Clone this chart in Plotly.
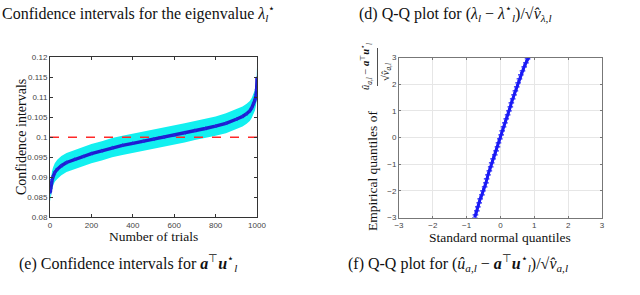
import plotly.graph_objects as go

# ---------------- data ----------------
trials = [1, 3, 6, 10, 15, 23, 35, 55, 80, 120, 160, 200, 250, 300, 350, 400, 450,
          500, 550, 600, 650, 700, 750, 800, 850, 900, 930, 950, 965, 975, 985,
          990, 995, 998, 1000]
estimate = [0.0862, 0.0870, 0.0885, 0.0893, 0.0902, 0.0912, 0.0920, 0.0929, 0.0937,
            0.0945, 0.0952, 0.0959, 0.0966, 0.0974, 0.0980, 0.0985, 0.0990, 0.0995,
            0.1000, 0.1005, 0.1011, 0.1017, 0.1022, 0.1028, 0.1035, 0.1045, 0.1052,
            0.1059, 0.1066, 0.1074, 0.1085, 0.1093, 0.1105, 0.1118, 0.1148]
half_width = [0.0022, 0.0022, 0.0023, 0.0023, 0.0023, 0.0023, 0.0024, 0.0024, 0.0024,
              0.0024, 0.0024, 0.0024, 0.0024, 0.0024, 0.0024, 0.0024, 0.0024, 0.0024,
              0.0024, 0.0024, 0.0024, 0.0024, 0.0024, 0.0024, 0.0025, 0.0025, 0.0025,
              0.0025, 0.0025, 0.0025, 0.0026, 0.0026, 0.0026, 0.0026, 0.0027]
true_value = 0.1
trial_range = [0, 1000]

ci_yticks = [0.08, 0.085, 0.09, 0.095, 0.1, 0.105, 0.11, 0.115, 0.12]
ci_yticklabels = ["0.08", "0.085", "0.09", "0.095", "0.1", "0.105", "0.11", "0.115", "0.12"]
ci_xticks = [0, 200, 400, 600, 800, 1000]

qq_normal = [-0.76, -0.74, -0.70, -0.67, -0.63, -0.60, -0.55, -0.52, -0.47, -0.43,
             -0.41, -0.37, -0.33, -0.29, -0.26, -0.22, -0.17, -0.13, -0.09, -0.06,
             -0.02, 0.02, 0.05, 0.09, 0.13, 0.17, 0.21, 0.25, 0.29, 0.32, 0.36,
             0.40, 0.44, 0.48, 0.52, 0.56, 0.60, 0.65, 0.70, 0.75, 0.80, 0.83]
qq_empirical = [-3.0, -2.9, -2.75, -2.6, -2.45, -2.3, -2.15, -2.0, -1.85, -1.7,
                -1.55, -1.4, -1.25, -1.1, -0.95, -0.8, -0.65, -0.5, -0.35, -0.2,
                -0.05, 0.1, 0.25, 0.4, 0.55, 0.7, 0.85, 1.0, 1.15, 1.3, 1.45,
                1.6, 1.75, 1.9, 2.05, 2.2, 2.35, 2.5, 2.65, 2.8, 2.95, 3.0]
qq_ticks = [-3, -2, -1, 0, 1, 2, 3]

# ---------------- figure ----------------
W, H = 640, 295
def px(x):
    return x / W
def py(y):
    return 1 - y / H

lower = [e - h for e, h in zip(estimate, half_width)]
upper = [e + h for e, h in zip(estimate, half_width)]

fig = go.Figure()
cyan = "#12F0F0"
fig.add_trace(go.Scatter(x=trials, y=lower, mode="lines", line=dict(width=0, color=cyan),
                         xaxis="x", yaxis="y", showlegend=False))
fig.add_trace(go.Scatter(x=trials, y=upper, mode="lines", line=dict(width=0, color=cyan),
                         fill="tonexty", fillcolor=cyan, xaxis="x", yaxis="y", showlegend=False))
fig.add_trace(go.Scatter(x=trial_range, y=[true_value, true_value], mode="lines",
                         line=dict(color="#FF2828", width=1.4, dash="dash"),
                         xaxis="x", yaxis="y", showlegend=False))
fig.add_trace(go.Scatter(x=trials, y=estimate, mode="lines+markers",
                         line=dict(color="#1E1ECF", width=3.4),
                         marker=dict(symbol="star", size=3.5, color="#2323E0"),
                         xaxis="x", yaxis="y", showlegend=False))

fig.add_trace(go.Scatter(x=qq_normal, y=qq_empirical, mode="lines+markers",
                         line=dict(color="#1A1AF5", width=3),
                         marker=dict(symbol="cross-thin", size=4, color="#1A1AF5",
                                     line=dict(width=1.2, color="#1A1AF5")),
                         xaxis="x2", yaxis="y2", showlegend=False))

tickfont = dict(family="Liberation Sans, Arial", size=8, color="#444")

fig.update_layout(
    width=W, height=H, margin=dict(l=0, r=0, t=0, b=0, pad=0),
    paper_bgcolor="white", plot_bgcolor="white",
    xaxis=dict(domain=[px(50), px(257)], range=trial_range, tickvals=ci_xticks,
               ticks="inside", ticklen=3, tickcolor="#333", showline=True, linecolor="#333",
               linewidth=1, mirror="ticks", showgrid=False, zeroline=False, tickfont=tickfont,
               automargin=False),
    yaxis=dict(domain=[py(217.3), py(57.3)], range=[0.08, 0.12], tickvals=ci_yticks,
               ticktext=ci_yticklabels, ticks="inside", ticklen=3, tickcolor="#333",
               showline=True, linecolor="#333", linewidth=1, mirror="ticks",
               showgrid=False, zeroline=False, tickfont=tickfont, anchor="x",
               automargin=False),
    xaxis2=dict(domain=[px(399), px(602)], range=[-3, 3], tickvals=qq_ticks,
                ticks="inside", ticklen=2, tickcolor="#777", showline=True, linecolor="#777",
                linewidth=1, mirror="ticks", showgrid=True, gridcolor="#E6E6E6",
                zeroline=False, tickfont=tickfont, anchor="y2", automargin=False),
    yaxis2=dict(domain=[py(217.5), py(57.5)], range=[-3, 3], tickvals=qq_ticks,
                ticks="inside", ticklen=2, tickcolor="#777", showline=True, linecolor="#777",
                linewidth=1, mirror="ticks", showgrid=True, gridcolor="#E6E6E6",
                zeroline=False, tickfont=tickfont, anchor="x2", automargin=False),
)

serif = "Liberation Serif, Times New Roman, serif"
def ann(text, x, y, size=14, angle=0, xanchor="center", yanchor="middle"):
    fig.add_annotation(text=text, x=px(x), y=py(y), xref="paper", yref="paper",
                       showarrow=False, textangle=angle, xanchor=xanchor, yanchor=yanchor,
                       font=dict(family=serif, size=size, color="#111"))

# captions
ann("Confidence intervals for the eigenvalue <i>λ</i><sub><i>l</i></sub><sup>⋆</sup>",
    0, 13, size=16, xanchor="left")
ann("(d) Q-Q plot for (<i>λ<sub>l</sub></i> − <i>λ</i><sup>⋆</sup><sub><i>l</i></sub>)/√<i>v̂</i><sub><i>λ,l</i></sub>",
    357, 13, size=16, xanchor="left")
ann("(e) Confidence intervals for <b><i>a</i></b><sup>⊤</sup><b><i>u</i></b><sup>⋆</sup><sub><i>l</i></sub>",
    17, 263, size=16, xanchor="left")
ann("(f) Q-Q plot for (<i>û<sub>a,l</sub></i> − <b><i>a</i></b><sup>⊤</sup><b><i>u</i></b><sup>⋆</sup><sub><i>l</i></sub>)/√<i>v̂<sub>a,l</sub></i>",
    346, 263, size=16, xanchor="left")

# axis titles
ann("Number of trials", 153, 236, size=13.5)
ann("Confidence intervals", 21, 137, size=14, angle=-90)
ann("Standard normal quantiles", 500, 237, size=13.5)
ann("Empirical quantiles of", 372, 171, size=13.5, angle=-90)
ann("<i>û<sub>a,l</sub></i> − <b><i>a</i></b><sup>⊤</sup><b><i>u</i></b><sup>⋆</sup><sub><i>l</i></sub>",
    366, 67, size=10.5, angle=-90)
ann("√<i>v̂<sub>a,l</sub></i>", 386, 72, size=10.5, angle=-90)
fig.add_shape(type="line", xref="paper", yref="paper", x0=px(377.5), x1=px(377.5),
              y0=py(48), y1=py(86), line=dict(color="#222", width=0.8))

fig.write_html("out.html", config={"displayModeBar": False, "staticPlot": True},
               post_script="document.body.style.margin='0';document.body.style.padding='0';")
